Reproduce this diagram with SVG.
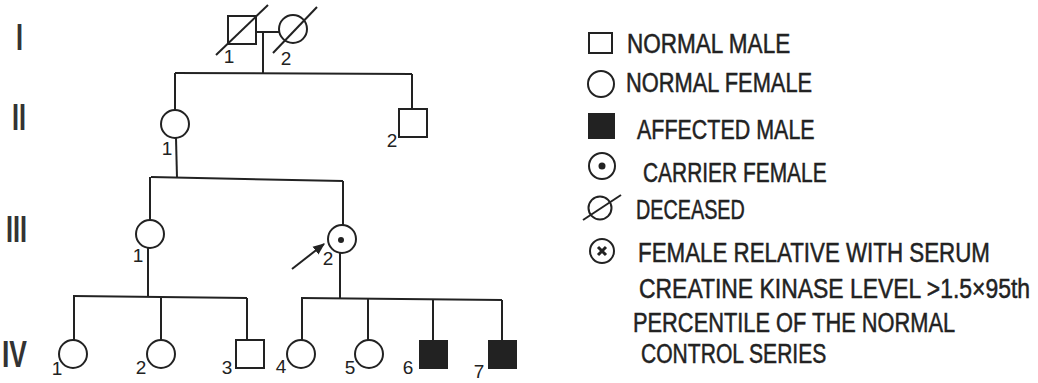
<svg xmlns="http://www.w3.org/2000/svg" width="1038" height="383" viewBox="0 0 1038 383">
<defs>
<style>
.ln{stroke:#222;stroke-width:2;fill:none}
.sym{stroke:#222;stroke-width:2;fill:#fff}
.aff{stroke:#222;stroke-width:2;fill:#222}
.num{font-family:"Liberation Sans",Arial,sans-serif;font-size:19px;fill:#222;text-anchor:middle}
.gen{font-family:"Liberation Sans",Arial,sans-serif;font-size:37px;font-weight:bold;fill:#333}
.leg{font-family:"Liberation Sans",Arial,sans-serif;font-size:27px;fill:#222;stroke:#222;stroke-width:0.5}
</style>
<marker id="ah" viewBox="0 0 10 10" refX="9" refY="5" markerWidth="6" markerHeight="6" orient="auto" markerUnits="strokeWidth">
<path d="M0,1 L10,5 L0,9 Z" fill="#222"/>
</marker>
</defs>
<rect width="1038" height="383" fill="#fff"/>

<g id="generations">
<text class="gen" x="16" y="50" textLength="7" lengthAdjust="spacingAndGlyphs">I</text>
<text class="gen" x="12" y="130" textLength="14" lengthAdjust="spacingAndGlyphs">II</text>
<text class="gen" x="6" y="242" textLength="21" lengthAdjust="spacingAndGlyphs">III</text>
<text class="gen" x="2" y="367" textLength="25" lengthAdjust="spacingAndGlyphs">IV</text>
</g>

<g id="connectors">
<line class="ln" x1="256" y1="32" x2="279" y2="32"/>
<line class="ln" x1="263" y1="32" x2="263" y2="73"/>
<line class="ln" x1="175" y1="73" x2="412" y2="74"/>
<line class="ln" x1="175" y1="73" x2="175" y2="110"/>
<line class="ln" x1="412" y1="74" x2="412" y2="109"/>
<line class="ln" x1="176" y1="138" x2="177" y2="178"/>
<line class="ln" x1="151" y1="177" x2="343" y2="181"/>
<line class="ln" x1="150" y1="177" x2="150" y2="221"/>
<line class="ln" x1="343" y1="181" x2="343" y2="225"/>
<line class="ln" x1="148" y1="248" x2="148" y2="297"/>
<line class="ln" x1="73" y1="296" x2="247" y2="298"/>
<line class="ln" x1="340" y1="253" x2="340" y2="299"/>
<line class="ln" x1="301" y1="298" x2="502" y2="300"/>
<line class="ln" x1="74" y1="296" x2="74" y2="340"/>
<line class="ln" x1="161" y1="297" x2="161" y2="340"/>
<line class="ln" x1="247" y1="298" x2="247" y2="340"/>
<line class="ln" x1="302" y1="298" x2="302" y2="340"/>
<line class="ln" x1="368" y1="299" x2="368" y2="340"/>
<line class="ln" x1="433" y1="299" x2="433" y2="341"/>
<line class="ln" x1="502" y1="300" x2="502" y2="341"/>
<line class="ln" x1="292" y1="269" x2="324" y2="244" marker-end="url(#ah)"/>
</g>

<g id="I-1">
<rect class="sym" x="228" y="16" width="28" height="28"/>
<line class="ln" x1="216" y1="55" x2="268" y2="5"/>
<text class="num" x="229" y="63">1</text>
</g>
<g id="I-2">
<circle class="sym" cx="293" cy="29" r="14"/>
<line class="ln" x1="273" y1="53" x2="317" y2="7"/>
<text class="num" x="286" y="65">2</text>
</g>
<g id="II-1">
<circle class="sym" cx="175" cy="124" r="14"/>
<text class="num" x="167" y="155">1</text>
</g>
<g id="II-2">
<rect class="sym" x="399" y="109" width="28" height="28"/>
<text class="num" x="392" y="147">2</text>
</g>
<g id="III-1">
<circle class="sym" cx="150" cy="234" r="14"/>
<text class="num" x="138" y="262">1</text>
</g>
<g id="III-2">
<circle class="sym" cx="342" cy="239" r="14"/>
<circle cx="341" cy="240" r="3" fill="#222"/>
<text class="num" x="328" y="265">2</text>
</g>
<g id="IV-1">
<circle class="sym" cx="73" cy="354" r="14"/>
<text class="num" x="57" y="375">1</text>
</g>
<g id="IV-2">
<circle class="sym" cx="161" cy="354" r="14"/>
<text class="num" x="141" y="374">2</text>
</g>
<g id="IV-3">
<rect class="sym" x="236" y="340" width="28" height="28"/>
<text class="num" x="227" y="374">3</text>
</g>
<g id="IV-4">
<circle class="sym" cx="301" cy="354" r="14"/>
<text class="num" x="281" y="373">4</text>
</g>
<g id="IV-5">
<circle class="sym" cx="369" cy="354" r="14"/>
<text class="num" x="350" y="374">5</text>
</g>
<g id="IV-6">
<rect class="aff" x="420" y="341" width="27" height="27"/>
<text class="num" x="408" y="374">6</text>
</g>
<g id="IV-7">
<rect class="aff" x="489" y="341" width="27" height="27"/>
<text class="num" x="479" y="378">7</text>
</g>

<g id="legend">
<rect class="sym" x="589" y="33" width="23" height="20"/>
<text class="leg" transform="translate(627,53) scale(0.85,1)" textLength="192" lengthAdjust="spacingAndGlyphs">NORMAL MALE</text>
<circle class="sym" cx="601" cy="84" r="13"/>
<text class="leg" transform="translate(626,92) scale(0.85,1)" textLength="219" lengthAdjust="spacingAndGlyphs">NORMAL FEMALE</text>
<rect class="aff" x="589" y="114" width="25" height="24"/>
<text class="leg" transform="translate(637,139) scale(0.85,1)" textLength="209" lengthAdjust="spacingAndGlyphs">AFFECTED MALE</text>
<circle class="sym" cx="602" cy="166" r="13" stroke-width="2.5"/>
<circle cx="602" cy="166" r="3.5" fill="#222"/>
<text class="leg" transform="translate(643,182) scale(0.85,1)" textLength="216" lengthAdjust="spacingAndGlyphs">CARRIER FEMALE</text>
<circle class="sym" cx="600" cy="208" r="11.5"/>
<line class="ln" x1="583" y1="220" x2="621" y2="195"/>
<text class="leg" transform="translate(636,219) scale(0.85,1)" textLength="128" lengthAdjust="spacingAndGlyphs">DECEASED</text>
<circle class="sym" cx="602" cy="251" r="12" stroke-width="3"/>
<path d="M598,247 L606,255 M606,247 L598,255" stroke="#222" stroke-width="3"/>
<text class="leg" transform="translate(638,262) scale(0.85,1)" textLength="414" lengthAdjust="spacingAndGlyphs">FEMALE RELATIVE WITH SERUM</text>
<text class="leg" transform="translate(639,298) scale(0.85,1)" textLength="460" lengthAdjust="spacingAndGlyphs">CREATINE KINASE LEVEL &gt;1.5×95th</text>
<text class="leg" transform="translate(633,332) scale(0.85,1)" textLength="379" lengthAdjust="spacingAndGlyphs">PERCENTILE OF THE NORMAL</text>
<text class="leg" transform="translate(641,363) scale(0.85,1)" textLength="218" lengthAdjust="spacingAndGlyphs">CONTROL SERIES</text>
</g>
</svg>
